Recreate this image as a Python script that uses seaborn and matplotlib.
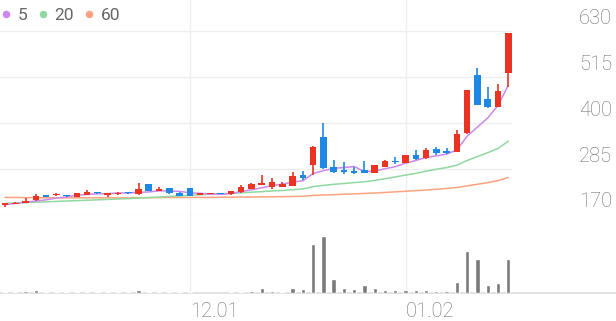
import numpy as np
import pandas as pd
import matplotlib
matplotlib.use("Agg")
import matplotlib.pyplot as plt
import seaborn as sns
from matplotlib.lines import Line2D
from matplotlib.transforms import blended_transform_factory, ScaledTranslation

# ---------------- data ----------------
opens = [195, 198, 200, 207, 219, 219, 220, 216, 220, 227, 221, 222, 227, 222, 247, 230, 237, 226, 237, 220,
         223, 225, 222, 227, 235, 245, 239, 241, 243, 270, 295, 366, 291, 283, 280, 283, 276, 291, 306, 301,
         320, 312, 335, 330, 329, 375, 521, 460, 441, 525]
highs = [200, 202, 213, 223, 220, 225, 221, 226, 233, 228, 223, 227, 228, 250, 248, 240, 238, 227, 238, 225,
         226, 226, 231, 245, 249, 270, 262, 253, 278, 281, 342, 400, 309, 303, 291, 306, 296, 307, 316, 321,
         333, 339, 341, 339, 383, 484, 539, 490, 497, 626]
lows = [190, 197, 199, 205, 215, 218, 216, 215, 219, 223, 215, 221, 223, 221, 229, 229, 222, 217, 217, 219,
        222, 222, 221, 226, 234, 244, 234, 240, 242, 258, 270, 286, 276, 273, 273, 275, 275, 290, 299, 300,
        309, 311, 320, 324, 328, 374, 445, 439, 440, 491]
closes = [200, 201, 206, 217, 216, 222, 217, 225, 228, 224, 223, 226, 224, 236, 230, 236, 226, 218, 218, 224,
          225, 223, 230, 241, 247, 249, 252, 247, 268, 262, 341, 287, 277, 277, 276, 276, 295, 306, 302, 320,
          310, 333, 325, 325, 372, 483, 446, 440, 480, 625]
volumes = [10, 10, 17, 27, 10, 10, 10, 13, 10, 10, 10, 10, 10, 33, 13, 10, 10, 10, 7, 5,
           5, 5, 10, 10, 17, 47, 17, 10, 50, 45, 493, 577, 143, 50, 43, 83, 47, 33, 30, 27,
           27, 27, 20, 17, 113, 423, 340, 77, 103, 347]
ma5 = [196, 199, 202, 205, 208, 212.4, 215.6, 219.4, 221.6, 223.2, 223.4, 225.2, 225, 226.6, 227.8, 230.4,
       230.4, 229.2, 225.6, 224.4, 222.2, 221.6, 224, 228.6, 233.2, 238, 243.8, 247.2, 252.6, 255.6, 274,
       281, 287, 288.8, 291.6, 278.6, 280.2, 286, 291, 299.8, 306.6, 314.2, 318, 322.6, 333, 367.6, 390.2,
       413.2, 444.2, 494.8]
ma20 = [199, 200, 201, 202, 203, 204, 205, 206, 207, 208, 209, 210, 211, 212.5, 213.5, 215, 216.5, 218, 219.5,
        220.85, 222.1, 223.2, 224.4, 225.6, 227.15, 228.5, 230.25, 231.35, 233.35, 235.25, 241.15, 244.2,
        246.85, 248.9, 251.2, 253.2, 256.65, 261.05, 265.25, 270.05, 274.3, 279.8, 284.55, 288.75, 295,
        306.7, 316.4, 326.05, 336.65, 354.8]
ma60 = [214, 214, 213.5, 213.5, 213, 213, 213, 213, 213, 213, 213,
        213, 213, 213.5, 213.5, 213.5, 214, 214, 214, 214, 214,
        214.5, 214.5, 215, 215, 215.5, 215.5, 216, 216.5, 217,
        219, 220, 221, 222, 223, 224, 225, 226.5, 228, 229.5, 231, 232.5, 234.5, 236.5, 239, 243, 247,
        251, 256, 264]
price_ticks = [170, 285, 400, 515, 630]
date_labels = ["12.01", "01.02"]
date_index = [18, 39]
ma_labels = ["5", "20", "60"]

# ---------------- style ----------------
sns.set_style("white")
plt.rcParams["font.family"] = ["Roboto", "DejaVu Sans"]

UP = "#EA3323"
DOWN = "#1E88E5"
MA_COLORS = ["#CC88EE", "#8FD9A0", "#FFA27F"]
GRID = "#EEEEEE"
TXT = "#707070"

W, H = 616, 321
fig = plt.figure(figsize=(W / 100, H / 100), dpi=100)
fig.patch.set_facecolor("white")

px_per_unit = 10.27
x0 = -5 / px_per_unit

ax_p = fig.add_axes([0, 1 - 215 / H, 512 / W, 215 / H])
ax_v = fig.add_axes([0, 1 - 293 / H, 1.0, 78 / H])

idx = np.arange(len(closes))
df = pd.DataFrame({"i": idx, "open": opens, "high": highs, "low": lows, "close": closes,
                   "vol": volumes, "ma5": ma5, "ma20": ma20, "ma60": ma60})

# ---------------- price panel ----------------
ax_p.set_ylim(170, 170 + 215 * 115 / 45.9)
ax_p.set_xlim(x0, x0 + 512 / px_per_unit)
ax_p.set_yticks(price_ticks)
ax_p.set_xticks([])
ax_p.grid(axis="y", color=GRID, lw=1)
ax_p.tick_params(axis="y", length=0, labelleft=False)
for s in ax_p.spines.values():
    s.set_visible(False)
for d in date_index:
    ax_p.axvline(d, color=GRID, lw=1, zorder=0)

for col, c in zip(["ma60", "ma20", "ma5"], [MA_COLORS[2], MA_COLORS[1], MA_COLORS[0]]):
    sns.lineplot(data=df, x="i", y=col, color=c, lw=1.1, ax=ax_p, zorder=2)

for i, o, h, l, c in zip(idx, opens, highs, lows, closes):
    col = UP if c >= o else DOWN
    ax_p.vlines(i, l, h, color=col, lw=1.2, zorder=3)
    bot = min(o, c)
    hgt = max(abs(c - o), 3)
    ax_p.bar(i, hgt, bottom=bot, width=0.64, color=col, zorder=4, linewidth=0)

ax_p.set_xlabel("")
ax_p.set_ylabel("")
ax_p.set_xlim(x0, x0 + 512 / px_per_unit)

trans = blended_transform_factory(fig.transFigure, ax_p.transData) + \
    ScaledTranslation(0, 13 / 100, fig.dpi_scale_trans)
for v in price_ticks:
    ax_p.text(612 / W, v, f"{v}", transform=trans, ha="right", va="center",
              fontsize=14.5, color=TXT, fontweight="light", clip_on=False)

# ---------------- volume panel ----------------
sns.barplot(data=df, x="i", y="vol", native_scale=True, color="#7A7A7A", saturation=1,
            width=0.42, ax=ax_v, zorder=3)
ax_v.set_xlim(x0, x0 + W / px_per_unit)
ax_v.set_ylim(0, 785)
ax_v.set_yticks([])
for d in date_index:
    ax_v.axvline(d, color=GRID, lw=1, zorder=0)
ax_v.set_xticks(date_index)
ax_v.set_xticklabels(date_labels, ha="left", fontsize=14.5, color=TXT, fontweight="light")
ax_v.tick_params(axis="x", length=0, pad=6.5)
ax_v.set_xlabel("")
ax_v.set_ylabel("")
for k in ["top", "left", "right"]:
    ax_v.spines[k].set_visible(False)
ax_v.spines["bottom"].set_color("#DDDDDD")
ax_v.spines["bottom"].set_linewidth(1.2)
ax_v.patch.set_alpha(0)
ax_p.patch.set_alpha(0)

# ---------------- legend ----------------
handles = [Line2D([], [], marker="o", ls="", markersize=5.4, color=c, markeredgewidth=0) for c in MA_COLORS]
fig.legend(handles, ma_labels, loc="upper left", bbox_to_anchor=(1.5 / W, 1 - 8 / H), ncol=3,
           frameon=False, handlelength=0.5, handletextpad=0.45, columnspacing=0.6,
           borderpad=0, borderaxespad=0, labelcolor="#666666", prop={"weight": "normal", "size": 12.5})

fig.savefig("out.png", dpi=100)
